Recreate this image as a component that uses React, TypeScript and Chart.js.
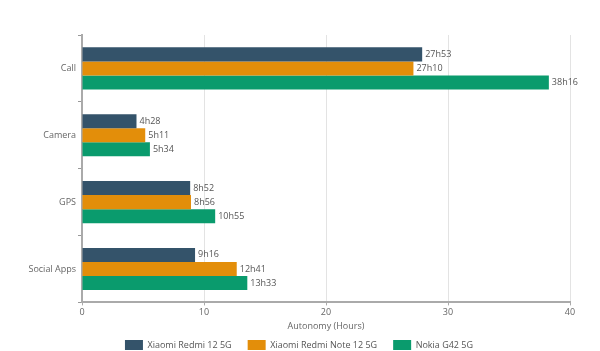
import React, { useEffect, useRef } from "react";
import { Chart, registerables } from "chart.js";

Chart.register(...registerables);

const categories = ["Call", "Camera", "GPS", "Social Apps"];
const seriesNames = ["Xiaomi Redmi 12 5G", "Xiaomi Redmi Note 12 5G", "Nokia G42 5G"];
const redmi12 = [27 + 53 / 60, 4 + 28 / 60, 8 + 52 / 60, 9 + 16 / 60];
const redmiNote12 = [27 + 10 / 60, 5 + 11 / 60, 8 + 56 / 60, 12 + 41 / 60];
const nokiaG42 = [38 + 16 / 60, 5 + 34 / 60, 10 + 55 / 60, 13 + 33 / 60];
const redmi12Labels = ["27h53", "4h28", "8h52", "9h16"];
const redmiNote12Labels = ["27h10", "5h11", "8h56", "12h41"];
const nokiaG42Labels = ["38h16", "5h34", "10h55", "13h33"];
const colors = ["#34536a", "#e38e0a", "#0a9b6d"];
const xTicks = [0, 10, 20, 30, 40];

const FONT = "'Open Sans', sans-serif";

const labelPlugin = {
  id: "barLabels",
  afterLayout(chart: any) {
    if (chart.legend) {
      chart.legend.left += 14;
      chart.legend.right += 14;
      chart.legend.top -= 8;
      chart.legend.bottom -= 8;
    }
  },
  afterDatasetsDraw(chart: any) {
    const ctx = chart.ctx;
    const allLabels = [redmi12Labels, redmiNote12Labels, nokiaG42Labels];
    ctx.save();
    ctx.font = `9px ${FONT}`;
    ctx.fillStyle = "#555";
    ctx.textAlign = "left";
    ctx.textBaseline = "middle";
    chart.data.datasets.forEach((ds: any, i: number) => {
      const meta = chart.getDatasetMeta(i);
      meta.data.forEach((el: any, j: number) => {
        ctx.fillText(allLabels[i][j], el.x + 3, el.y);
      });
    });
    ctx.restore();
  },
};

export default function App() {
  const ref = useRef<HTMLCanvasElement>(null);
  useEffect(() => {
    document.body.style.margin = "0";
    const chart = new Chart(ref.current!, {
      type: "bar",
      data: {
        labels: categories,
        datasets: [redmi12, redmiNote12, nokiaG42].map((d, i) => ({
          label: seriesNames[i],
          data: d,
          backgroundColor: colors[i],
          borderWidth: 0,
          categoryPercentage: 0.63,
          barPercentage: 1,
        })),
      },
      options: {
        indexAxis: "y",
        animation: false,
        responsive: false,
        layout: { padding: { top: 35, right: 30, left: 0, bottom: -17 } },
        plugins: {
          legend: {
            position: "bottom",
            labels: {
              boxWidth: 18,
              boxHeight: 10,
              padding: 16,
              color: "#555",
              font: { family: FONT, size: 9 },
            },
          },
          tooltip: { enabled: false },
        },
        scales: {
          x: {
            min: 0,
            max: 40,
            afterBuildTicks: (s: any) => {
              s.ticks = xTicks.map((v) => ({ value: v }));
            },
            grid: { color: "#e3e3e3", tickLength: 3, tickColor: "#aaa" },
            border: { color: "#aaa", width: 2 },
            ticks: { color: "#666", font: { family: FONT, size: 9 }, padding: 2 },
            title: {
              display: true,
              text: "Autonomy (Hours)",
              color: "#666",
              font: { family: FONT, size: 9 },
              padding: { top: 1, bottom: 0 },
            },
          },
          y: {
            afterFit: (s: any) => {
              s.width = 82;
            },
            grid: { drawOnChartArea: false, tickLength: 4, tickColor: "#999", offset: true },
            border: { color: "#aaa", width: 2 },
            ticks: { color: "#666", font: { family: FONT, size: 9 }, padding: 2 },
          },
        },
      },
      plugins: [labelPlugin],
    });
    return () => chart.destroy();
  }, []);
  return (
    <div style={{ width: 600, height: 351 }}>
      <canvas ref={ref} width={600} height={351} />
    </div>
  );
}
